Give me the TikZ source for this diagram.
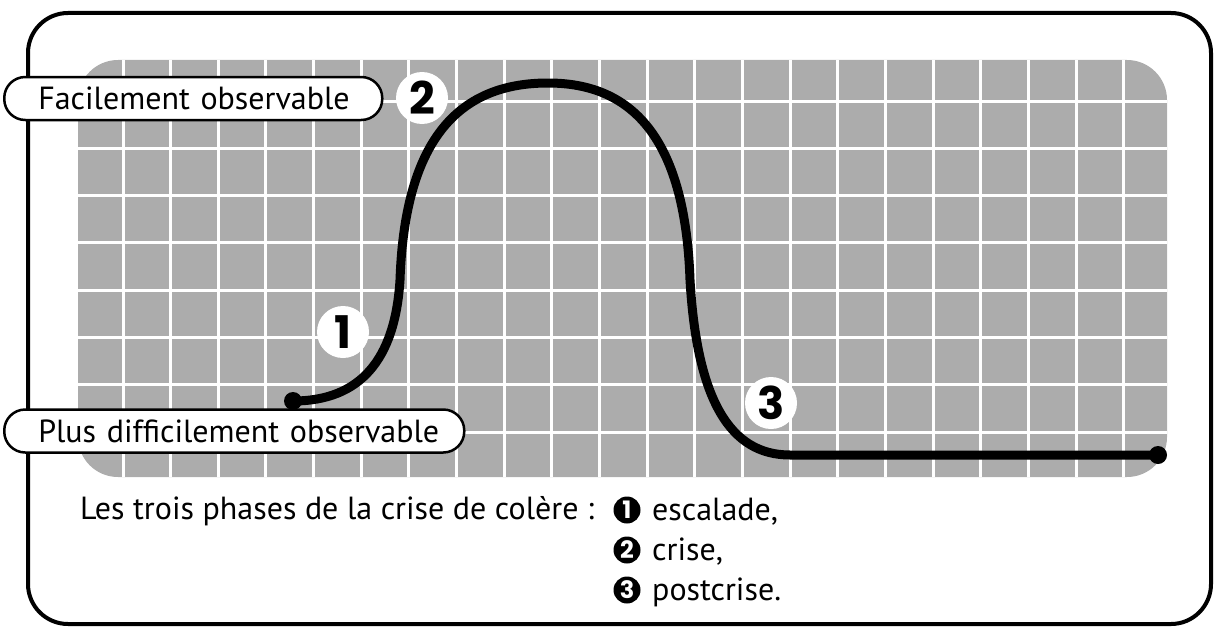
\documentclass[tikz,border=0pt]{standalone}
\usepackage{fontspec}
\setmainfont{PT Sans}
\newfontfamily\chiffres{Poppins}
\definecolor{grille}{HTML}{ACACAC}

\tikzset{
    etiquette/.style={draw, line width=2.5pt, fill=white, rounded corners=21pt,
        minimum height=43pt, inner xsep=34pt, align=left, anchor=west,
        font=\fontsize{32}{36}\selectfont},
    numero/.style={circle, fill=white, minimum size=52pt, inner sep=0pt,
        font=\chiffres\bfseries\fontsize{45}{45}\selectfont},
    puce/.style={circle, fill=black, text=white, minimum size=27pt, inner sep=0pt,
        font=\chiffres\bfseries\fontsize{24}{24}\selectfont},
    texte/.style={anchor=base west, inner sep=0pt, font=\fontsize{32}{36}\selectfont},
    point/.style={circle, fill=black, minimum size=18pt, inner sep=0pt}
}

\begin{document}
\begin{tikzpicture}[x=1pt, y=-1pt]
            \useasboundingbox (0, 0) rectangle (1214, 626);
            \draw[line width=4pt, rounded corners=40pt] (28, 13) rectangle (1211, 624);
            % fond quadrille
            \fill[grille, rounded corners=40pt] (78, 60) rectangle (1167, 477);
            \foreach \i in {0,...,21}
                \draw[white, line width=3pt] ({123 + 47.65*\i}, 60) -- ++(0, 417);
            \foreach \j in {0,...,7}
                \draw[white, line width=3pt] (78, {101 + 47.3*\j}) -- ++(1089, 0);
            % niveaux
            \node[etiquette, text width=310pt] (facile) at (3, 98.5) {\mbox{Facilement observable}};
            \node[etiquette, text width=392pt] (difficile) at (3, 431) {\mbox{Plus difficilement observable}};
            % courbe
            \node[point] (debut) at (293, 401) {};
            \node[point] (fin) at (1158, 455) {};
            \draw[line width=9pt] (debut.center)
                .. controls (360, 401) and (395, 360) .. (400, 280)
                .. controls (405, 135) and (462, 83) .. (548, 83)
                .. controls (630, 83) and (685, 135) .. (690, 280)
                .. controls (697, 400) and (730, 455) .. (790, 455)
                -- (fin.center);
            \node[numero] (un) at (343, 332) {1};
            \node[numero] (deux) at (422, 98) {2};
            \node[numero] (trois) at (771, 403) {3};
            % legende
            \node[texte] (phases) at (80, 519) {Les trois phases de la crise de colère :};
            \node[puce] (p1) at (627, 510) {1};
            \node[texte] (escalade) at (652, 520) {escalade,};
            \node[puce] (p2) at (627, 550) {2};
            \node[texte] (crise) at (652, 560) {crise,};
            \node[puce] (p3) at (627, 590) {3};
            \node[texte] (postcrise) at (652, 600) {postcrise.};
\end{tikzpicture}
\end{document}
